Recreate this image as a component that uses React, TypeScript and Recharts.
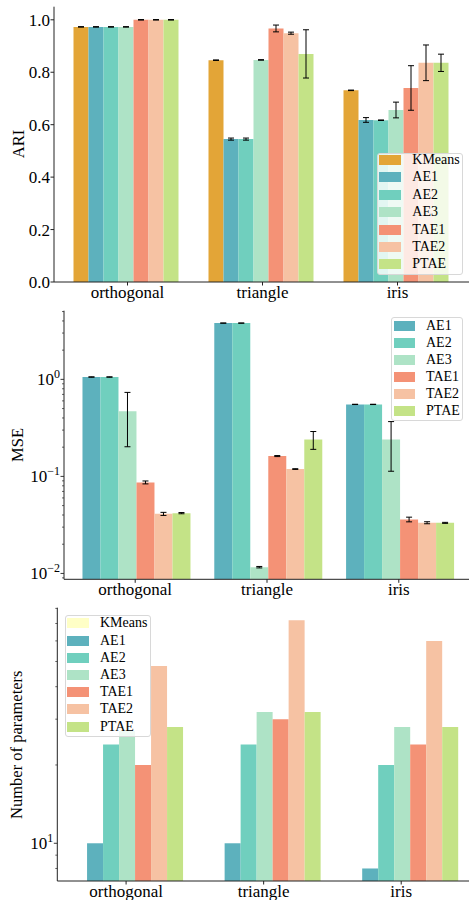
import React from 'react';
import { BarChart, Bar, XAxis, YAxis, ErrorBar, Label } from 'recharts';

const FONT = "'Liberation Serif', 'DejaVu Serif', serif";
const AXIS = '#222';

const groups = ['orthogonal', 'triangle', 'iris'];
const methods = ['KMeans', 'AE1', 'AE2', 'AE3', 'TAE1', 'TAE2', 'PTAE'];
const colors = ['#e3a537', '#5db1bd', '#70cfbe', '#aee3c6', '#f49276', '#f6c2a3', '#c4e387'];
const paramsKMeansColor = '#ffffc6';

// ARI mean / std per method (orthogonal, triangle, iris)
const ariKMeans = [0.973, 0.846, 0.731];
const ariAE1 = [0.973, 0.545, 0.618];
const ariAE2 = [0.973, 0.545, 0.617];
const ariAE3 = [0.973, 0.847, 0.656];
const ariTAE1 = [1.0, 0.967, 0.74];
const ariTAE2 = [1.0, 0.949, 0.836];
const ariPTAE = [1.0, 0.87, 0.836];
const ariKMeansErr = [0.001, 0.001, 0.001];
const ariAE1Err = [0.001, 0.004, 0.009];
const ariAE2Err = [0.001, 0.004, 0.001];
const ariAE3Err = [0.001, 0.001, 0.03];
const ariTAE1Err = [0.001, 0.013, 0.085];
const ariTAE2Err = [0.001, 0.004, 0.068];
const ariPTAEErr = [0.001, 0.092, 0.033];

// MSE mean / std
const mseAE1 = [1.057, 3.8, 0.552];
const mseAE2 = [1.057, 3.8, 0.552];
const mseAE3 = [0.468, 0.0116, 0.24];
const mseTAE1 = [0.0867, 0.162, 0.036];
const mseTAE2 = [0.0411, 0.119, 0.0333];
const msePTAE = [0.0418, 0.24, 0.0332];
const mseAE1Err = [0.005, 0.01, 0.002];
const mseAE2Err = [0.005, 0.01, 0.002];
const mseAE3Err = [0.266, 0.0002, 0.127];
const mseTAE1Err = [0.003, 0.002, 0.002];
const mseTAE2Err = [0.0015, 0.001, 0.0008];
const msePTAEErr = [0.0006, 0.05, 0.0004];

// number of parameters (KMeans has none)
const parKMeans = [null, null, null];
const parAE1 = [10, 10, 8];
const parAE2 = [24, 24, 20];
const parAE3 = [27, 32, 28];
const parTAE1 = [20, 30, 24];
const parTAE2 = [48, 72, 60];
const parPTAE = [28, 32, 28];

const ariTicks = [0, 0.2, 0.4, 0.6, 0.8, 1.0];
const mseTicks = [0.009, 0.01, 0.02, 0.03, 0.04, 0.05, 0.06, 0.07, 0.08, 0.09, 0.1, 0.2, 0.3, 0.4, 0.5, 0.6, 0.7, 0.8, 0.9, 1, 2, 3, 4, 5];
const parTicks = [8, 9, 10, 20, 30, 40, 50, 60, 70, 80];

function buildRows(names: string[], vals: (number | null)[][], errs?: number[][]) {
  return groups.map((g, i) => {
    const row: any = { group: g };
    names.forEach((n, k) => {
      row[n] = vals[k][i];
      if (errs) row[n + '_err'] = errs[k][i];
    });
    return row;
  });
}

const ariData = buildRows(
  methods,
  [ariKMeans, ariAE1, ariAE2, ariAE3, ariTAE1, ariTAE2, ariPTAE],
  [ariKMeansErr, ariAE1Err, ariAE2Err, ariAE3Err, ariTAE1Err, ariTAE2Err, ariPTAEErr]
);
const mseMethods = methods.slice(1);
const mseData = buildRows(
  mseMethods,
  [mseAE1, mseAE2, mseAE3, mseTAE1, mseTAE2, msePTAE],
  [mseAE1Err, mseAE2Err, mseAE3Err, mseTAE1Err, mseTAE2Err, msePTAEErr]
);
const parData = buildRows(methods, [parKMeans, parAE1, parAE2, parAE3, parTAE1, parTAE2, parPTAE]);

const tickStyle = { fill: '#000', fontSize: 17, fontFamily: FONT };

function LogTick(props: any) {
  const { x, y, payload } = props;
  const v = payload.value;
  const lg = Math.log10(v);
  const exp = Math.round(lg);
  const major = Math.abs(lg - exp) < 1e-6;
  const spine = x + 4;
  return (
    <g>
      <line x1={spine - (major ? 3.5 : 2)} x2={spine} y1={y} y2={y} stroke={AXIS} strokeWidth={major ? 0.9 : 0.7} />
      {major && (
        <text x={x} y={y} dy={6} textAnchor="end" fontSize={17} fontFamily={FONT} fill="#000">
          10<tspan dy={-7} fontSize={12}>{exp < 0 ? '\u2212' + -exp : String(exp)}</tspan>
        </text>
      )}
    </g>
  );
}

function axisTitle(text: string, x: number, y: number) {
  return () => (
    <text x={x} y={y} transform={`rotate(-90, ${x}, ${y})`} textAnchor="middle" fontSize={16.5} fontFamily={FONT} fill="#000">
      {text}
    </text>
  );
}

function BoxLegend({ names, cols, left, top, width, height, patchLeft, patchWidth, textLeft, firstY, step }: any) {
  return (
    <div
      style={{
        position: 'absolute', left, top, width, height, boxSizing: 'border-box',
        border: '1px solid #d8d8d8', borderRadius: 3, background: 'rgba(255,255,255,0.8)',
      }}
    >
      {names.map((n: string, i: number) => (
        <React.Fragment key={n}>
          <div style={{ position: 'absolute', left: patchLeft - 1, top: firstY + i * step - 6, width: patchWidth, height: 10, background: cols[i] }} />
          <div style={{ position: 'absolute', left: textLeft - 1, top: firstY + i * step - 9, fontSize: 14, lineHeight: '16px', fontFamily: FONT, color: '#000', whiteSpace: 'nowrap' }}>
            {n}
          </div>
        </React.Fragment>
      ))}
    </div>
  );
}

export default function App() {
  return (
    <div style={{ position: 'absolute', left: 0, top: 0, width: 469, height: 900, overflow: 'hidden', background: '#fff', fontFamily: FONT }}>
      {/* ARI */}
      <div style={{ position: 'absolute', left: 0, top: 0 }}>
        <BarChart width={472} height={310} data={ariData} margin={{ top: 6.7, right: 2, left: 0, bottom: 0 }} barCategoryGap="10%" barGap={0}>
          <XAxis dataKey="group" height={28} padding={{ left: 6, right: 5 }} tick={tickStyle} tickSize={3.5} tickMargin={0.5} axisLine={{ stroke: AXIS }} tickLine={{ stroke: AXIS }} />
          <XAxis xAxisId="top" dataKey="group" orientation="top" height={0} tick={false} tickLine={false} axisLine={{ stroke: AXIS }} />
          <YAxis type="number" domain={[0, 1.05]} ticks={ariTicks} width={54} tick={tickStyle} tickSize={3.5} tickMargin={0.5} tickFormatter={(v: number) => v.toFixed(1)} axisLine={{ stroke: AXIS }} tickLine={{ stroke: AXIS }}>
            <Label content={axisTitle('ARI', 24, 144)} />
          </YAxis>
          {methods.map((m, k) => (
            <Bar key={m} dataKey={m} fill={colors[k]} isAnimationActive={false}>
              <ErrorBar dataKey={m + '_err'} width={3} stroke="#000" strokeWidth={1} direction="y" />
            </Bar>
          ))}
        </BarChart>
        <BoxLegend names={methods} cols={colors} left={376.7} top={152.7} width={86.6} height={122.6} patchLeft={2.3} patchWidth={22} textLeft={35.6} firstY={7.3} step={17.4} />
      </div>

      {/* MSE */}
      <div style={{ position: 'absolute', left: 0, top: 290 }}>
        <BarChart width={472} height={310} data={mseData} margin={{ top: 20.7, right: 2, left: 0, bottom: 0 }} barCategoryGap="10%" barGap={0}>
          <XAxis dataKey="group" height={20.7} padding={{ left: 5.3, right: 5.3 }} tick={tickStyle} tickSize={3.5} tickMargin={0.5} axisLine={{ stroke: AXIS }} tickLine={{ stroke: AXIS }} />
          <XAxis xAxisId="top" dataKey="group" orientation="top" height={0} tick={false} tickLine={false} axisLine={{ stroke: AXIS }} />
          <YAxis type="number" scale="log" domain={[0.0087, 5.1]} allowDataOverflow ticks={mseTicks} width={64} tick={(p: any) => <LogTick {...p} />} tickSize={3.5} tickMargin={0.5} tickLine={false} axisLine={{ stroke: AXIS }} interval={0}>
            <Label content={axisTitle('MSE', 23.3, 155)} />
          </YAxis>
          {mseMethods.map((m, k) => (
            <Bar key={m} dataKey={m} fill={colors[k + 1]} isAnimationActive={false}>
              <ErrorBar dataKey={m + '_err'} width={3} stroke="#000" strokeWidth={1} direction="y" />
            </Bar>
          ))}
        </BarChart>
        <BoxLegend names={mseMethods} cols={colors.slice(1)} left={390.7} top={27.3} width={72.6} height={103.7} patchLeft={3.3} patchWidth={21} textLeft={35.3} firstY={8.4} step={17} />
      </div>

      {/* Number of parameters */}
      <div style={{ position: 'absolute', left: 0, top: 595 }}>
        <BarChart width={472} height={305} data={parData} margin={{ top: 12.7, right: 2, left: 0, bottom: 0 }} barCategoryGap="10%" barGap={0}>
          <XAxis dataKey="group" height={19} padding={{ left: 0, right: 0 }} tick={tickStyle} tickSize={3.5} tickMargin={0.5} axisLine={{ stroke: AXIS }} tickLine={{ stroke: AXIS }} />
          <XAxis xAxisId="top" dataKey="group" orientation="top" height={0} tick={false} tickLine={false} axisLine={{ stroke: AXIS }} />
          <YAxis type="number" scale="log" domain={[7.16, 80.5]} allowDataOverflow ticks={parTicks} width={57.3} tick={(p: any) => <LogTick {...p} />} tickSize={3.5} tickMargin={0.5} tickLine={false} axisLine={{ stroke: AXIS }} interval={0}>
            <Label content={axisTitle('Number of parameters', 22, 149.7)} />
          </YAxis>
          {methods.map((m, k) => (
            <Bar key={m} dataKey={m} fill={k === 0 ? paramsKMeansColor : colors[k]} isAnimationActive={false} />
          ))}
        </BarChart>
        <BoxLegend names={methods} cols={[paramsKMeansColor, ...colors.slice(1)]} left={64.7} top={20} width={86} height={122.3} patchLeft={2.3} patchWidth={22.3} textLeft={35.3} firstY={8.3} step={17.23} />
      </div>
    </div>
  );
}
